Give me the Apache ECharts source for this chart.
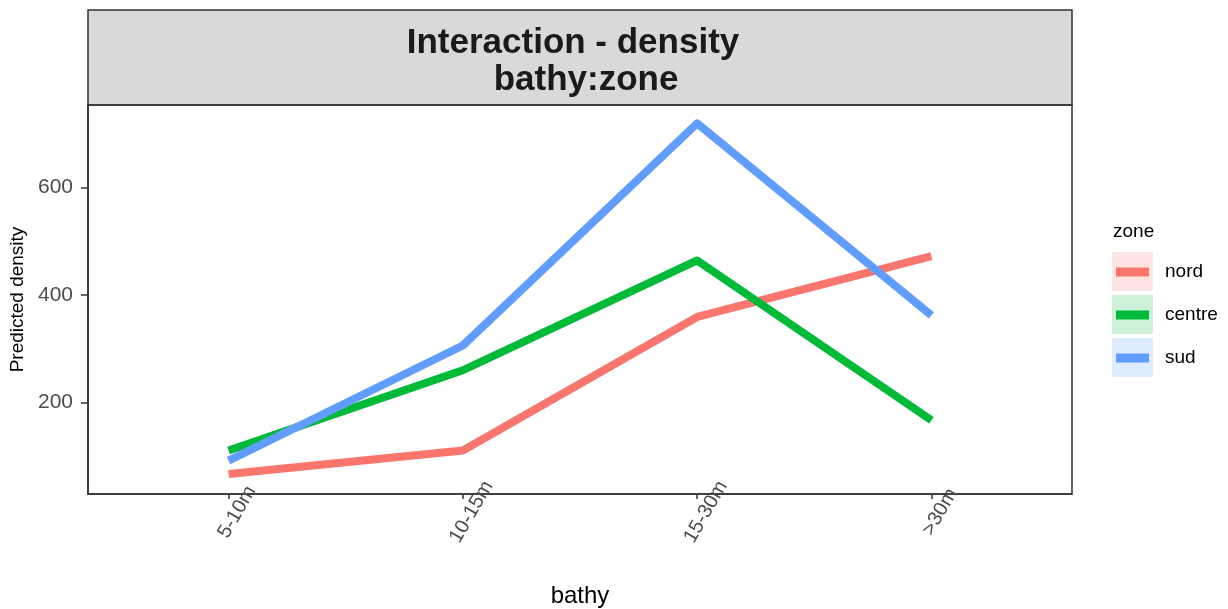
<!DOCTYPE html>
<html>
<head>
<meta charset="utf-8">
<script src="https://cdn.jsdelivr.net/npm/echarts@6/dist/echarts.min.js"></script>
<style>html,body{margin:0;padding:0;background:#fff}#c{width:1228px;height:609px}</style>
</head>
<body>
<div id="c"></div>
<script>
const categories = ['5-10m', '10-15m', '15-30m', '>30m'];
const zones = ['nord', 'centre', 'sud'];
const nord = [67, 111, 359, 472];
const centre = [111, 260, 464, 167];
const sud = [92, 306, 719, 362];
const yTicks = [200, 400, 600];
const colors = ['#F8766D', '#00BA38', '#619CFF'];
const keyFills = ['rgba(248,118,109,0.2)', 'rgba(0,186,56,0.2)', 'rgba(97,156,255,0.2)'];

const seriesValues = [nord, centre, sud];
const FONT = 'Liberation Sans, Arial, sans-serif';

const chart = echarts.init(document.getElementById('c'), null, {renderer: 'canvas'});
const series = zones.map((z, i) => ({
  name: z,
  type: 'line',
  showSymbol: false,
  symbol: 'none',
  data: seriesValues[i].map((v, k) => [k, v]),
  lineStyle: {color: colors[i], width: 8, join: 'round', cap: 'butt'},
  itemStyle: {color: colors[i]},
  z: 2 + i,
  animation: false
}));

const keyRects = zones.map((z, i) => ({
  type: 'rect',
  shape: {x: 1112, y: 252 + i * 43, width: 41, height: 39},
  style: {fill: keyFills[i]},
  z: 0
}));

chart.setOption({
  animation: false,
  backgroundColor: '#fff',
  title: [
    {text: 'Interaction - density', left: 573, top: 25, textAlign: 'center', padding: 0,
     textStyle: {fontFamily: FONT, fontSize: 35, fontWeight: 'bold', color: '#1a1a1a', lineHeight: 36}},
    {text: 'bathy:zone', left: 586, top: 62, textAlign: 'center', padding: 0,
     textStyle: {fontFamily: FONT, fontSize: 35, fontWeight: 'bold', color: '#1a1a1a', lineHeight: 36}},
    {text: 'zone', left: 1113, top: 221, padding: 0,
     textStyle: {fontFamily: FONT, fontSize: 19, fontWeight: 'normal', color: '#000', lineHeight: 22}}
  ],
  graphic: [
    {type: 'rect', shape: {x: 88, y: 10, width: 984, height: 95},
     style: {fill: '#d9d9d9', stroke: '#333', lineWidth: 1.5}, z: -1}
  ].concat(keyRects),
  legend: {
    orient: 'vertical',
    left: 1116,
    top: 260,
    itemWidth: 33,
    itemHeight: 9,
    itemGap: 19,
    icon: 'rect',
    padding: 0,
    data: zones,
    textStyle: {fontFamily: FONT, fontSize: 19, color: '#000', lineHeight: 24, padding: [0, 0, 0, 11]}
  },
  grid: {left: 88, right: 156, top: 105, bottom: 115, outerBoundsMode: 'none', containLabel: false,
         show: true, borderColor: '#333', borderWidth: 1.5, backgroundColor: 'transparent'},
  xAxis: {
    type: 'value',
    min: -0.6,
    max: 3.6,
    name: 'bathy',
    nameLocation: 'middle',
    nameGap: 90,
    nameMoveOverlap: false,
    nameTextStyle: {fontFamily: FONT, fontSize: 24, color: '#000', verticalAlign: 'top'},
    splitLine: {show: false},
    axisLine: {show: true, onZero: false, lineStyle: {color: '#333', width: 1.5}},
    axisTick: {show: true, length: 5, lineStyle: {color: '#333', width: 1.5}, customValues: [0, 1, 2, 3]},
    axisLabel: {
      customValues: [0, 1, 2, 3],
      rotate: 60,
      align: 'center',
      verticalAlign: 'top',
      margin: 13,
      fontFamily: FONT,
      fontSize: 20,
      color: '#4d4d4d',
      formatter: v => categories[Math.round(v)]
    }
  },
  yAxis: {
    type: 'value',
    min: 30,
    max: 753,
    name: 'Predicted density',
    nameLocation: 'middle',
    nameGap: 9,
    nameRotate: 90,
    nameTextStyle: {fontFamily: FONT, fontSize: 19, color: '#000', verticalAlign: 'bottom'},
    splitLine: {show: false},
    axisLine: {show: true, onZero: false, lineStyle: {color: '#333', width: 1.5}},
    axisTick: {show: true, length: 7, lineStyle: {color: '#333', width: 1.5}, customValues: yTicks},
    axisLabel: {customValues: yTicks, margin: 15, fontFamily: FONT, fontSize: 21, color: '#4d4d4d'}
  },
  series: series
});
</script>
</body>
</html>
